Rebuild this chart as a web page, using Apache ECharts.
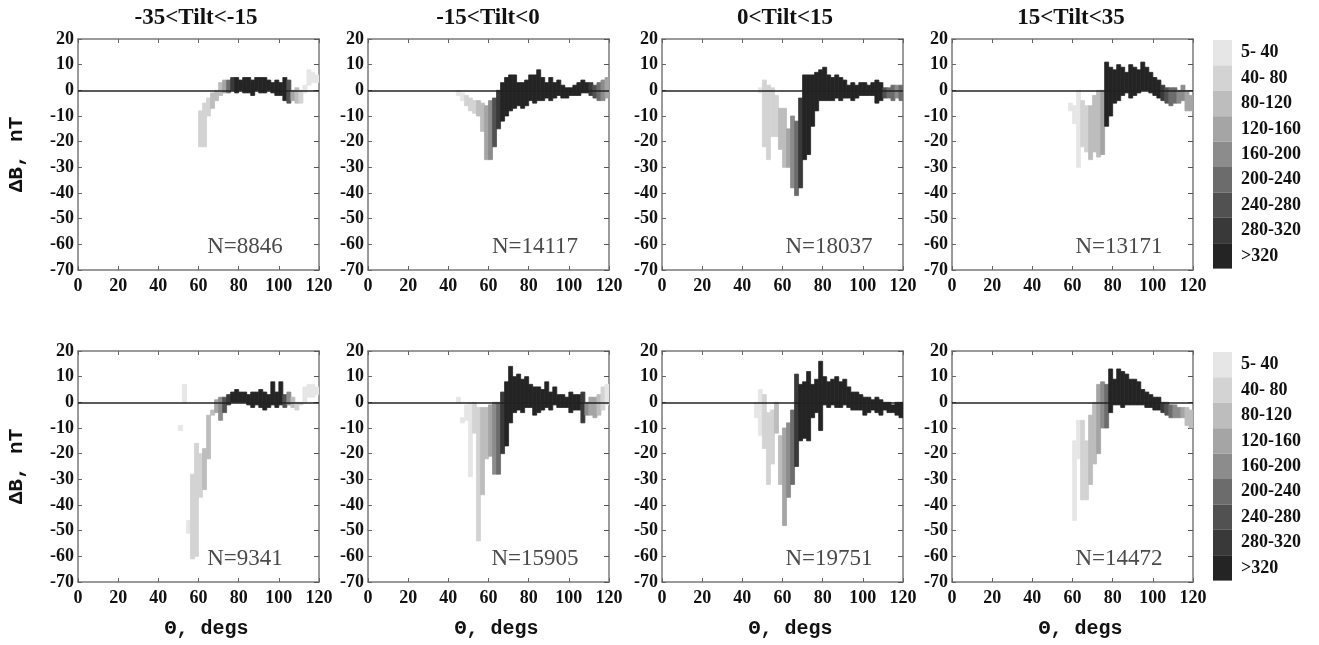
<!DOCTYPE html>
<html><head><meta charset="utf-8">
<script src="https://cdn.jsdelivr.net/npm/echarts@6/dist/echarts.min.js"></script>
<style>html,body{margin:0;padding:0;background:#fff}#c{width:1319px;height:645px}</style>
</head><body><div id="c"></div>
<script>
// bin width in degrees of Theta
const BIN = 2;
const panelTitles = ['-35<Tilt<-15', '-15<Tilt<0', '0<Tilt<15', '15<Tilt<35'];
const countLabels = ['5- 40', '40- 80', '80-120', '120-160', '160-200', '200-240', '240-280', '280-320', '>320'];
const grays = ['#e6e6e6', '#d3d3d3', '#bdbdbd', '#a5a5a5', '#8c8c8c', '#6c6c6c', '#515151', '#393939', '#242424'];
const nTop = ['N=8846', 'N=14117', 'N=18037', 'N=13171'];
const nBottom = ['N=9341', 'N=15905', 'N=19751', 'N=14472'];
const xTickLabels = [0, 20, 40, 60, 80, 100, 120];
const yTickLabels = [20, 10, 0, -10, -20, -30, -40, -50, -60, -70];

// rows: [theta bin start (deg), dB low (nT), dB high (nT), count class 0..8]
const top1 = [
  [60,-22,-8,1],[62,-22,-5,1],[64,-10,-3,1],[66,-7,-1,2],[68,-4,0,2],[70,-2,3,2],[72,-1,4,3],[74,-1,4,5],
  [76,0,5,7],[78,-1,5,8],[80,0,4,8],[82,-1,5,8],[84,-1,5,8],[86,-2,4,8],[88,0,5,8],[90,-1,5,8],
  [92,-1,5,8],[94,0,4,8],[96,-1,3,8],[98,-2,4,8],[100,-2,3,8],[102,-4,5,8],[104,-5,4,6],[106,-4,0,3],
  [108,-5,1,2],[110,-5,0,1],[112,-1,2,0],[114,2,8,0],[116,3,7,0],[118,3,6,0]
];
const top2 = [
  [44,-2,0,0],[46,-4,-1,0],[48,-6,-2,1],[50,-8,-3,1],[52,-9,-4,1],[54,-10,-4,2],[56,-16,-5,2],[58,-27,-6,3],
  [60,-27,-4,4],[62,-22,-3,6],[64,-15,0,7],[66,-12,3,8],[68,-10,5,8],[70,-8,6,8],[72,-7,6,8],[74,-6,3,8],
  [76,-7,3,8],[78,-6,4,8],[80,-4,6,8],[82,-5,6,8],[84,-4,8,8],[86,-4,5,8],[88,-3,3,8],[90,-4,5,8],
  [92,-3,3,8],[94,-2,4,8],[96,-3,2,8],[98,-3,1,8],[100,-2,1,8],[102,-2,2,8],[104,-2,3,8],[106,-1,4,8],
  [108,-1,3,8],[110,-2,3,7],[112,-3,2,6],[114,-4,3,5],[116,-4,4,4],[118,-3,5,3]
];
const top3 = [
  [48,-1,1,0],[50,-22,4,1],[52,-27,2,1],[54,-18,1,1],[56,-18,-2,1],[58,-23,-7,2],[60,-30,-7,2],[62,-30,-15,3],
  [64,-38,-10,4],[66,-41,-12,5],[68,-38,-3,7],[70,-27,6,8],[72,-25,6,8],[74,-14,6,8],[76,-8,7,8],[78,-4,8,8],
  [80,-4,9,8],[82,-4,6,8],[84,-4,5,8],[86,-3,6,8],[88,-4,5,8],[90,-3,4,8],[92,-3,2,8],[94,-4,3,8],
  [96,-3,2,8],[98,-2,3,8],[100,-2,3,8],[102,-2,2,8],[104,-2,3,8],[106,-5,4,8],[108,-4,3,8],[110,-3,1,6],
  [112,-3,1,5],[114,-4,2,5],[116,-3,2,4],[118,-4,2,5]
];
const top4 = [
  [58,-8,-5,0],[60,-13,-6,0],[62,-30,0,0],[64,-22,-4,1],[66,-24,-6,1],[68,-27,-6,2],[70,-24,-2,2],[72,-26,0,2],
  [74,-25,0,3],[76,-14,11,8],[78,-10,9,8],[80,-5,8,8],[82,-4,10,8],[84,-2,9,8],[86,-1,7,8],[88,-3,10,8],
  [90,-2,9,8],[92,-1,8,8],[94,0,11,8],[96,0,9,8],[98,-1,7,8],[100,-2,5,8],[102,-3,4,8],[104,-4,2,7],
  [106,-5,1,6],[108,-6,1,5],[110,-5,1,5],[112,-5,0,4],[114,-4,2,4],[116,-8,0,3],[118,-8,-2,3]
];
const bot1 = [
  [50,-11,-9,0],[52,0,7,0],[54,-51,-46,0],[56,-61,-28,1],[58,-60,-16,1],[60,-37,-20,1],[62,-34,-18,2],[64,-22,-5,2],
  [66,-5,-3,2],[68,-4,1,3],[70,-7,2,4],[72,-4,2,6],[74,-1,3,7],[76,0,4,8],[78,0,5,8],[80,0,4,8],
  [82,0,4,8],[84,-1,3,8],[86,-2,4,8],[88,-1,4,8],[90,-2,5,8],[92,-3,4,8],[94,-2,3,8],[96,-1,8,8],
  [98,-2,4,8],[100,-1,8,8],[102,-2,3,6],[104,-1,4,4],[106,-2,2,2],[108,-3,0,1],[110,-1,0,1],[112,0,6,0],
  [114,2,7,0],[116,2,7,0],[118,3,6,0]
];
const bot2 = [
  [44,0,2,0],[46,-8,-6,0],[48,-7,-1,0],[50,-29,0,0],[52,-12,0,1],[54,-54,-2,1],[56,-36,-2,2],[58,-22,-2,2],
  [60,-21,-1,3],[62,-28,0,4],[64,-28,0,5],[66,-20,4,7],[68,-17,8,8],[70,-8,14,8],[72,-4,10,8],[74,-3,11,8],
  [76,-4,9,8],[78,-2,10,8],[80,-2,7,8],[82,-5,6,8],[84,-4,6,8],[86,-3,5,8],[88,-2,8,8],[90,-3,4,8],
  [92,-1,6,8],[94,-2,3,8],[96,-2,3,8],[98,-2,2,8],[100,-4,4,8],[102,-3,3,8],[104,-3,3,8],[106,-8,4,7],
  [108,-5,0,4],[110,-5,2,3],[112,-6,2,3],[114,-5,3,2],[116,-3,6,1],[118,-1,7,0]
];
const bot3 = [
  [46,-6,0,0],[48,-13,5,0],[50,-18,3,1],[52,-32,-4,1],[54,-24,-3,1],[56,-12,0,2],[58,-32,-13,2],[60,-48,-10,3],
  [62,-37,-8,4],[64,-32,-3,5],[66,-25,11,7],[68,-15,7,8],[70,-14,8,8],[72,-15,12,8],[74,-6,7,8],[76,-4,9,8],
  [78,-11,16,8],[80,-1,10,8],[82,-2,8,8],[84,-1,9,8],[86,-2,10,8],[88,-2,8,8],[90,-1,9,8],[92,-2,6,8],
  [94,-3,4,8],[96,-3,4,8],[98,-3,3,8],[100,-5,2,8],[102,-4,2,8],[104,-3,1,8],[106,-4,2,8],[108,-5,1,8],
  [110,-3,0,8],[112,-4,0,8],[114,-4,-1,8],[116,-5,0,8],[118,-6,0,8]
];
const bot4 = [
  [60,-46,-15,0],[62,-22,-7,0],[64,-38,-7,1],[66,-38,-15,1],[68,-32,-5,2],[70,-24,0,2],[72,-20,7,3],[74,-10,8,4],
  [76,-10,7,5],[78,-4,13,8],[80,-1,9,8],[82,-1,13,8],[84,-2,12,8],[86,-1,11,8],[88,-1,9,8],[90,-1,9,8],
  [92,-1,8,8],[94,-1,5,8],[96,-2,4,8],[98,-2,3,8],[100,-3,2,8],[102,-3,2,8],[104,-4,0,7],[106,-5,0,6],
  [108,-6,-1,5],[110,-6,-1,4],[112,-6,-2,4],[114,-6,-2,3],[116,-9,-2,2],[118,-10,-3,2]
];
const panels = [top1, top2, top3, top4, bot1, bot2, bot3, bot4];

const lefts = [78, 368, 662, 952];
const tops = [39, 351];
const GW = 241, GH = 231;
const SERIF = '"Liberation Serif", "DejaVu Serif", serif';
const MONO = '"Liberation Mono", "DejaVu Sans Mono", monospace';

const grid = [], xAxis = [], yAxis = [], series = [], graphic = [];
panels.forEach((rows, i) => {
  const col = i % 4, row = Math.floor(i / 4);
  grid.push({left: lefts[col], top: tops[row], width: GW, height: GH, containLabel: false});
  const lineStyle = {color: '#7a7a7a', width: 1.5};
  xAxis.push({
    type: 'value', gridIndex: i, min: 0, max: 120, interval: 20, position: 'bottom',
    axisLine: {show: true, onZero: false, lineStyle},
    axisTick: {show: true, inside: true, length: 4, lineStyle: {color: '#666'}},
    axisLabel: {show: true, margin: 7, fontFamily: SERIF, fontWeight: 'bold', fontSize: 18, color: '#111',
      formatter: v => xTickLabels.includes(v) ? String(v) : ''},
    splitLine: {show: false},
    name: row === 1 ? 'Θ, degs' : '', nameLocation: 'middle', nameGap: 37,
    nameTextStyle: {fontFamily: MONO, fontWeight: 'bold', fontSize: 20, color: '#111', padding: [0, 0, 0, 16]}
  });
  xAxis.push({
    type: 'value', gridIndex: i, min: 0, max: 120, interval: 20, position: 'top',
    axisLine: {show: true, onZero: false, lineStyle},
    axisTick: {show: true, inside: true, length: 4, lineStyle: {color: '#666'}},
    axisLabel: {show: false}, splitLine: {show: false}
  });
  yAxis.push({
    type: 'value', gridIndex: i, min: -70, max: 20, interval: 10, position: 'left',
    axisLine: {show: true, onZero: false, lineStyle},
    axisTick: {show: true, inside: true, length: 4, lineStyle: {color: '#666'}},
    axisLabel: {show: true, margin: 4, fontFamily: SERIF, fontWeight: 'bold', fontSize: 18, color: '#111',
      formatter: v => yTickLabels.includes(v) ? String(v) : ''},
    splitLine: {show: false},
    name: col === 0 ? 'ΔB, nT' : '', nameLocation: 'middle', nameGap: 51, nameRotate: 90,
    nameTextStyle: {fontFamily: MONO, fontWeight: 'bold', fontSize: 21, color: '#111'}
  });
  yAxis.push({
    type: 'value', gridIndex: i, min: -70, max: 20, interval: 10, position: 'right',
    axisLine: {show: true, onZero: false, lineStyle},
    axisTick: {show: true, inside: true, length: 5, lineStyle: {color: '#555'}},
    axisLabel: {show: false}, splitLine: {show: false}
  });
  series.push({
    type: 'custom', name: 'panel' + i, xAxisIndex: 2 * i, yAxisIndex: 2 * i, clip: true,
    data: rows, encode: {x: 0, y: [1, 2]},
    renderItem: function (params, api) {
      const x0 = api.value(0), lo = api.value(1), hi = api.value(2);
      const pA = api.coord([x0, hi]);
      const pB = api.coord([x0 + BIN, lo]);
      const c = api.visual('color');
      return {
        type: 'rect',
        shape: {x: pA[0], y: pA[1], width: pB[0] - pA[0], height: Math.max(pB[1] - pA[1], 1)},
        style: {fill: c, stroke: c, lineWidth: 0.8}
      };
    },
    markLine: {
      silent: true, symbol: ['none', 'none'], animation: false,
      label: {show: false},
      lineStyle: {color: '#222', width: 1.6, type: 'solid'},
      data: [{yAxis: 0}]
    }
  });
  const nText = row === 0 ? nTop[col] : nBottom[col];
  graphic.push({
    type: 'text', x: lefts[col] + 167, y: tops[row] + 208,
    style: {text: nText, fontFamily: SERIF, fontSize: 23, fill: '#4a4a4a', align: 'center', verticalAlign: 'middle'}
  });
});

const titleX = [196, 488, 785, 1071];
panelTitles.forEach((t, k) => {
  graphic.push({
    type: 'text', x: titleX[k], y: 18,
    style: {text: t, fontFamily: SERIF, fontWeight: 'bold', fontSize: 23, fill: '#111', align: 'center', verticalAlign: 'middle'}
  });
});

const pieces = countLabels.map((l, k) => ({value: k, label: l, color: grays[k]}));
const vm = (seriesIndex, top) => ({
  type: 'piecewise', seriesIndex, dimension: 3, orient: 'vertical', inverse: true, align: 'left',
  left: 1213, top, itemWidth: 19, itemHeight: 25.4, itemGap: 0, padding: 0, itemSymbol: 'rect',
  textGap: 9, selectedMode: false, hoverLink: false,
  pieces,
  textStyle: {fontFamily: SERIF, fontWeight: 'bold', fontSize: 18, color: '#111'}
});

const chart = echarts.init(document.getElementById('c'), null, {renderer: 'canvas'});
chart.setOption({
  animation: false,
  backgroundColor: '#fff',
  grid, xAxis, yAxis, series, graphic,
  visualMap: [vm([0, 1, 2, 3], 40), vm([4, 5, 6, 7], 352)]
});
</script></body></html>
